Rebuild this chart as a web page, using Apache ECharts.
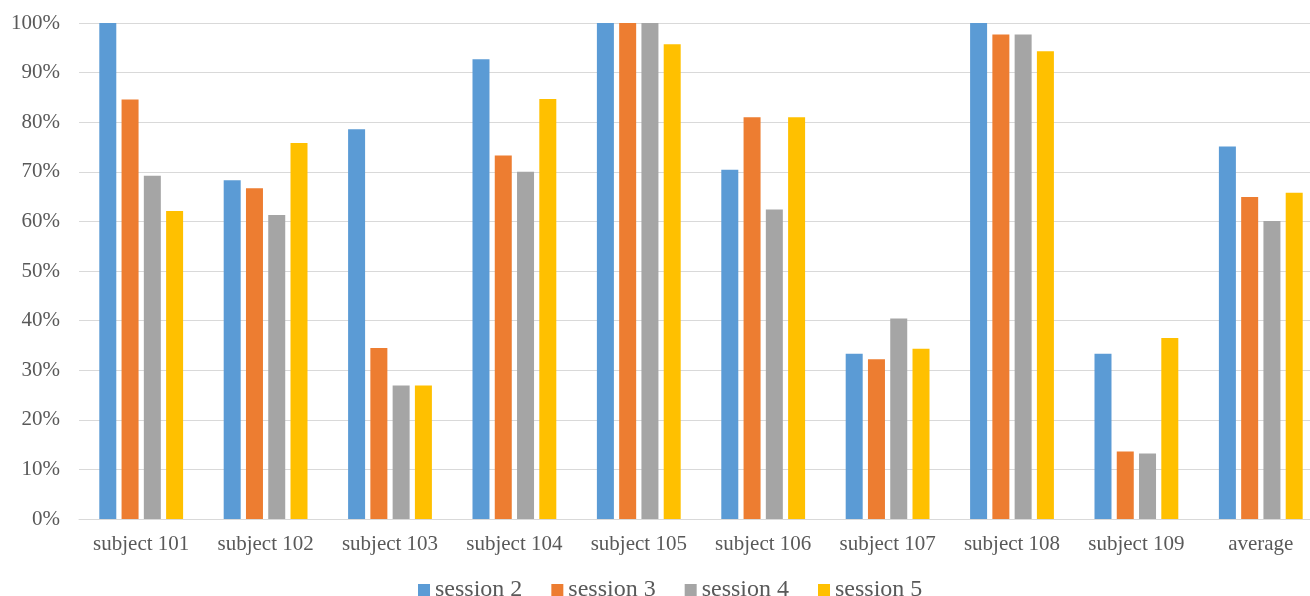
<!DOCTYPE html>
<html>
<head>
<meta charset="utf-8">
<script src="https://cdn.jsdelivr.net/npm/echarts@6/dist/echarts.min.js"></script>
<style>html,body{margin:0;padding:0;background:#fff}#c{width:1310px;height:596px}</style>
</head>
<body>
<div id="c"></div>
<script>
const categories = ['subject 101','subject 102','subject 103','subject 104','subject 105','subject 106','subject 107','subject 108','subject 109','average'];
const seriesNames = ['session 2','session 3','session 4','session 5'];
const session2 = [100, 68.3, 78.6, 92.7, 100, 70.4, 33.3, 100, 33.3, 75.1];
const session3 = [84.6, 66.7, 34.5, 73.3, 100, 81.0, 32.2, 97.7, 13.6, 64.9];
const session4 = [69.2, 61.3, 26.9, 70.0, 100, 62.4, 40.4, 97.7, 13.2, 60.1];
const session5 = [62.1, 75.8, 26.9, 84.7, 95.7, 81.0, 34.3, 94.3, 36.5, 65.8];
const colors = ['#5B9BD5','#ED7D31','#A5A5A5','#FFC000'];

const font = '"Liberation Serif", "DejaVu Serif", serif';
const chart = echarts.init(document.getElementById('c'), null, {renderer:'canvas'});
const data = [session2, session3, session4, session5];
chart.setOption({
  animation: false,
  color: colors,
  grid: {left: 79, width: 1244, top: 23, bottom: 77, containLabel: false, outerBoundsMode: 'none'},
  legend: {
    data: seriesNames,
    left: 413, top: 573,
    icon: 'rect', itemWidth: 12, itemHeight: 12, itemGap: 29,
    textStyle: {fontFamily: font, fontSize: 24, color: '#595959'}
  },
  xAxis: {
    type: 'category', data: categories,
    axisLine: {lineStyle: {color: '#D9D9D9'}},
    axisTick: {show: false},
    axisLabel: {fontFamily: font, fontSize: 21, color: '#595959', margin: 15, interval: 0}
  },
  yAxis: {
    type: 'value', min: 0, max: 100, interval: 10,
    axisLine: {show: false}, axisTick: {show: false},
    splitLine: {lineStyle: {color: '#D9D9D9'}},
    axisLabel: {fontFamily: font, fontSize: 21, color: '#595959', margin: 19, formatter: '{value}%'}
  },
  series: seriesNames.map((n, i) => ({
    name: n, type: 'bar', data: data[i], barWidth: 17, barGap: '31%'
  }))
});
</script>
</body>
</html>
